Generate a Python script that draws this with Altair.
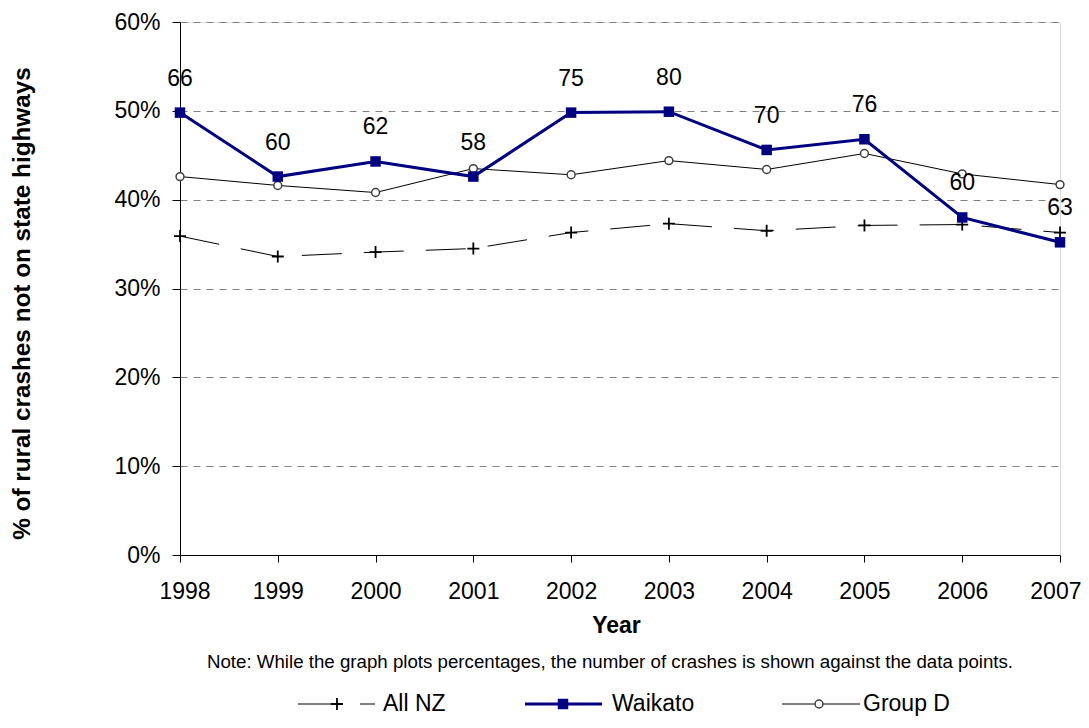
import altair as alt
import pandas as pd

# ---- data ----
years = [1998, 1999, 2000, 2001, 2002, 2003, 2004, 2005, 2006, 2007]
all_nz = [35.9, 33.6, 34.1, 34.5, 36.3, 37.3, 36.5, 37.1, 37.2, 36.3]
waikato = [49.8, 42.6, 44.3, 42.6, 49.8, 49.9, 45.6, 46.8, 38.0, 35.2]
group_d = [42.6, 41.6, 40.8, 43.5, 42.8, 44.4, 43.4, 45.2, 42.9, 41.7]
waikato_counts = [66, 60, 62, 58, 75, 80, 70, 76, 60, 63]
series_names = ["All NZ", "Waikato", "Group D"]
y_ticks = [0, 10, 20, 30, 40, 50, 60]
y_title = "% of rural crashes not on state highways"
x_title = "Year"
note_text = "Note:  While the graph plots percentages, the number of crashes is shown against the data points."

FONT = "Liberation Sans"
NAVY = "#000080"
GRID = "#808080"

df = pd.DataFrame({
    "Year": years * 3,
    "Series": [series_names[0]] * 10 + [series_names[1]] * 10 + [series_names[2]] * 10,
    "Value": all_nz + waikato + group_d,
})
wk = pd.DataFrame({"Year": years, "Value": waikato, "Count": waikato_counts})

x_enc = alt.X(
    "Year:Q",
    scale=alt.Scale(domain=[years[0], years[-1]], nice=False, zero=False),
    axis=alt.Axis(
        values=years, format="d", title=x_title, grid=False,
        tickSize=7, tickColor="black", domainColor="black",
        labelPadding=18, labelFontSize=23, labelColor="black", labelFont=FONT,
        labelFlush=True, labelFlushOffset=21, labelOverlap=False,
        titleFontSize=23, titleFontWeight="bold", titleColor="black", titleFont=FONT,
        titleX=436, titleY=70, titleBaseline="middle", titleAlign="center",
    ),
)
y_enc = alt.Y(
    "Value:Q",
    scale=alt.Scale(domain=[0, 60], nice=False),
    axis=alt.Axis(
        values=y_ticks, labelExpr="datum.value + '%'", title=y_title,
        grid=True, gridColor=GRID, gridDash=[7, 6], gridWidth=1,
        tickSize=8, tickColor="black", domainColor="black",
        labelPadding=12, labelFontSize=23, labelColor="black", labelFont=FONT,
        labelOverlap=False,
        titleFontSize=24.3, titleFontWeight="bold", titleColor="black", titleFont=FONT,
        titleAngle=-90, titleX=-158, titleY=281, titleBaseline="middle", titleAlign="center",
    ),
)

base = alt.Chart(df).encode(x=x_enc, y=y_enc)

line_nz = base.transform_filter(alt.datum.Series == "All NZ").mark_line(
    color="black", strokeWidth=1, strokeDash=[40, 22])
line_gd = base.transform_filter(alt.datum.Series == "Group D").mark_line(
    color="black", strokeWidth=1)
line_wk = base.transform_filter(alt.datum.Series == "Waikato").mark_line(
    color=NAVY, strokeWidth=3)

PLUS = "M-1,0H1M0,-1V1"
pt_nz = base.transform_filter(alt.datum.Series == "All NZ").mark_point(
    shape=PLUS, size=144, stroke="black", strokeWidth=1.8, filled=False, opacity=1)
pt_gd = base.transform_filter(alt.datum.Series == "Group D").mark_point(
    shape="circle", size=62, stroke="#404040", strokeWidth=1.5, fill="white",
    filled=True, opacity=1)
pt_wk = base.transform_filter(alt.datum.Series == "Waikato").mark_point(
    shape="square", size=110, color=NAVY, filled=True, opacity=1)

labels = alt.Chart(wk).mark_text(
    dy=-34, fontSize=23, font=FONT, color="black", baseline="middle"
).encode(x=alt.X("Year:Q"), y=alt.Y("Value:Q"), text="Count:Q")

note = alt.Chart(pd.DataFrame({"t": [note_text]})).mark_text(
    fontSize=18.7, font=FONT, color="black", align="center", baseline="middle"
).encode(x=alt.value(430), y=alt.value(640), text="t:N")

# ---- manual legend (bottom, centred) ----
LEG_Y = 682
one = pd.DataFrame({"t": [0]})


def leg_text(name, xpos):
    return alt.Chart(pd.DataFrame({"t": [name]})).mark_text(
        fontSize=23, font=FONT, color="black", align="left", baseline="middle"
    ).encode(x=alt.value(xpos), y=alt.value(LEG_Y), text="t:N")


leg_nz_line = alt.Chart(one).mark_rule(color="black", strokeWidth=1, strokeDash=[40, 22]).encode(
    x=alt.value(118), x2=alt.value(195), y=alt.value(LEG_Y))
leg_nz_pt = alt.Chart(one).mark_point(
    shape=PLUS, size=144, stroke="black", strokeWidth=1.8, filled=False, opacity=1
).encode(x=alt.value(157), y=alt.value(LEG_Y))
leg_wk_line = alt.Chart(one).mark_rule(color=NAVY, strokeWidth=3).encode(
    x=alt.value(345), x2=alt.value(422), y=alt.value(LEG_Y))
leg_wk_pt = alt.Chart(one).mark_point(
    shape="square", size=110, color=NAVY, filled=True, opacity=1
).encode(x=alt.value(383), y=alt.value(LEG_Y))
leg_gd_line = alt.Chart(one).mark_rule(color="black", strokeWidth=1).encode(
    x=alt.value(602), x2=alt.value(680), y=alt.value(LEG_Y))
leg_gd_pt = alt.Chart(one).mark_point(
    shape="circle", size=62, stroke="#404040", strokeWidth=1.5, fill="white",
    filled=True, opacity=1
).encode(x=alt.value(639), y=alt.value(LEG_Y))

chart = alt.layer(
    line_nz, line_gd, line_wk, pt_nz, pt_gd, pt_wk, labels, note,
    leg_nz_line, leg_nz_pt, leg_text(series_names[0], 203),
    leg_wk_line, leg_wk_pt, leg_text(series_names[1], 432),
    leg_gd_line, leg_gd_pt, leg_text(series_names[2], 683),
).properties(
    width=880, height=533,
    padding={"left": 172, "top": 14, "right": 21, "bottom": 165},
    autosize=alt.AutoSizeParams(type="none"),
    background="white",
).configure_view(
    stroke=GRID, strokeWidth=1
).configure(font=FONT)

chart.save("out.html", embed_options={"renderer": "svg", "actions": False})
